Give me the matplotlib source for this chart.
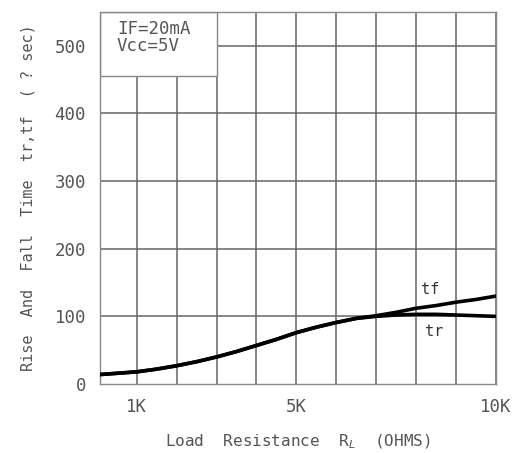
import matplotlib.pyplot as plt
from matplotlib.patches import Rectangle

# load resistance in kOhm, times in ns
rl = [0.08, 1, 1.5, 2, 2.5, 3, 3.5, 4, 4.5, 5, 5.5, 6, 6.5, 7, 7.5, 8, 8.5, 9, 9.5, 10]
tf = [14, 18, 22, 27, 33, 40, 48, 57, 66, 76, 84, 91, 97, 101, 106, 112, 116, 121, 125, 130]
tr = [14, 18, 22, 27, 33, 40, 48, 57, 66, 76, 84, 91, 97, 100, 102, 103, 103, 102, 101, 100]

xticks = [1, 5, 10]
xticklabels = ["1K", "5K", "10K"]
yticks = [0, 100, 200, 300, 400, 500]

txt = "#555555"
mono = "DejaVu Sans Mono"

fig = plt.figure(figsize=(5.12, 4.53), dpi=100)
ax = fig.add_axes([0.1953, 0.1523, 0.7734, 0.8212])

ax.set_xlim(0.08, 10)
ax.set_ylim(0, 550)

# grid: one vertical line per 1K, horizontal every 100
for k in range(1, 11):
    ax.axvline(k, color="#666666", lw=1.1, zorder=1)
for v in yticks[1:]:
    ax.axhline(v, color="#666666", lw=1.1, zorder=1)

# white box for the conditions text
ax.add_patch(Rectangle((0.08, 455), 2.92, 95, facecolor="white",
                       edgecolor="#888888", lw=1.0, zorder=2))
ax.text(0.5, 538, "IF=20mA\nVcc=5V", fontsize=12.5, color=txt, family=mono,
        va="top", ha="left", linespacing=0.95, zorder=3)

ax.plot(rl, tr, color="black", lw=2.6, zorder=4, solid_capstyle="round")
ax.plot(rl, tf, color="black", lw=2.6, zorder=4, solid_capstyle="round")

ax.text(8.35, 140, "tf", fontsize=11, color="#333333", family=mono, ha="center", va="center")
ax.text(8.45, 77, "tr", fontsize=11, color="#333333", family=mono, ha="center", va="center")

ax.set_xticks(xticks)
ax.set_xticklabels(xticklabels)
ax.set_yticks(yticks)
ax.tick_params(length=0, labelsize=12.5, colors=txt, pad=10)
for lab in ax.get_xticklabels() + ax.get_yticklabels():
    lab.set_family(mono)
for s in ax.spines.values():
    s.set_color("#888888")
    s.set_linewidth(1.0)

ax.set_xlabel("Load  Resistance  R$_L$  (OHMS)", fontsize=11.5, color=txt,
              family=mono, labelpad=12)
ax.set_ylabel("Rise  And  Fall  Time  tr,tf  ( ? sec)", fontsize=11, color=txt,
              family=mono, labelpad=14)

fig.savefig("out.png", dpi=100)
